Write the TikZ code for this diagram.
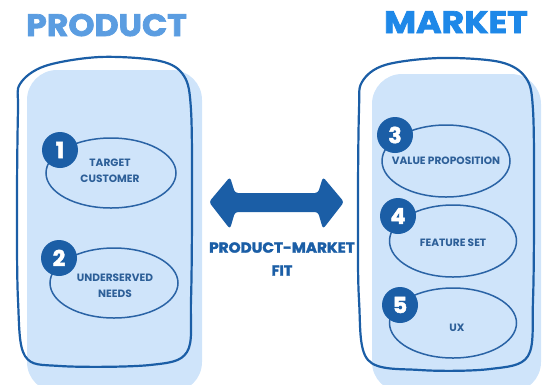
\documentclass[tikz,border=0pt]{standalone}
\usepackage{fontspec}
\setmainfont{Poppins}
\newfontfamily\heavy{Poppins}[UprightFeatures={FakeBold=2.2},BoldFeatures={FakeBold=2.2}]
\usetikzlibrary{shapes.geometric}
\definecolor{dblue}{HTML}{1B5EA6}
\definecolor{eblue}{HTML}{2A63A5}
\definecolor{tblue}{HTML}{2D5F98}
\definecolor{lfill}{HTML}{CFE4FA}
\definecolor{ptitle}{HTML}{5B9DE1}
\definecolor{mtitle}{HTML}{1E88E8}
\begin{document}
\begin{tikzpicture}[x=1pt,y=-1pt,
  outline/.style={draw=dblue,line width=2.2pt,line join=round},
  oval/.style={draw=eblue,line width=1.5pt,ellipse,minimum width=#1,inner sep=0pt},
  badge/.style={circle,fill=dblue,minimum size=36pt,inner sep=0pt,text=white,font=\heavy\bfseries\fontsize{22}{22}\selectfont},
  otext/.style={text=tblue,font=\bfseries\fontsize{10.6}{16}\selectfont,align=center},
  title/.style={font=\heavy\bfseries\fontsize{31}{31}\selectfont}]
\useasboundingbox (0,0) rectangle (543,384);
% fills
\fill[lfill,rounded corners=30pt] (27,70) rectangle (202,392);
\fill[lfill,rounded corners=30pt] (372,74) rectangle (541,392);
% outlines
\draw[outline] plot[smooth cycle,tension=0.55] coordinates {
 (20,84) (45,66) (100,57) (160,61) (184,76) (191,110) (192,200) (191,300) (187,352) (150,365) (60,366) (25,356) (18,300) (17,200) (18,110)};
\draw[outline] plot[smooth cycle,tension=0.55] coordinates {
 (362,82) (385,65) (440,58) (500,62) (526,78) (533,110) (534,200) (533,300) (528,356) (490,369) (420,370) (368,360) (359,300) (358,200) (359,110)};
% titles
\node[title,text=ptitle,anchor=base] (tp) at (106.5,36) {\scalebox{1.07}[1]{PRODUCT}};
\node[title,text=mtitle,anchor=base] (tm) at (456,33) {\scalebox{1.12}[1]{MARKET}};
% ellipses
\node[oval=130pt,minimum height=70pt] (e1) at (111,173) {};
\node[oval=128pt,minimum height=70pt] (e2) at (114,283) {};
\node[oval=128pt,minimum height=72pt] (e3) at (446,161) {};
\node[oval=127pt,minimum height=72pt] (e4) at (453,241) {};
\node[oval=127pt,minimum height=70pt] (e5) at (453,323) {};
% texts
\node[otext] (t1) at (110,171) {TARGET\\CUSTOMER};
\node[otext] (t2) at (115,286) {UNDERSERVED\\NEEDS};
\node[otext] (t3) at (446,161) {VALUE PROPOSITION};
\node[otext] (t4) at (453,243) {FEATURE SET};
\node[otext] (t5) at (457,328) {UX};
% badges
\node[badge] (b1) at (60,150) {1};
\node[badge] (b2) at (59,258) {2};
\node[badge] (b3) at (395,135) {3};
\node[badge] (b4) at (398,216) {4};
\node[badge] (b5) at (400,305) {5};
% arrow
\fill[dblue,rounded corners=3pt] (209,202) -- (230,177) -- (235,193) -- (318,193) -- (323,177) -- (344,202)
  -- (323,229) -- (318,212) -- (235,212) -- (230,229) -- cycle;
\node[text=dblue,font=\heavy\bfseries\fontsize{14.5}{23}\selectfont,align=center] (pm) at (282,259) {\scalebox{1.05}[1]{PRODUCT-MARKET}\\FIT};
\end{tikzpicture}
\end{document}
